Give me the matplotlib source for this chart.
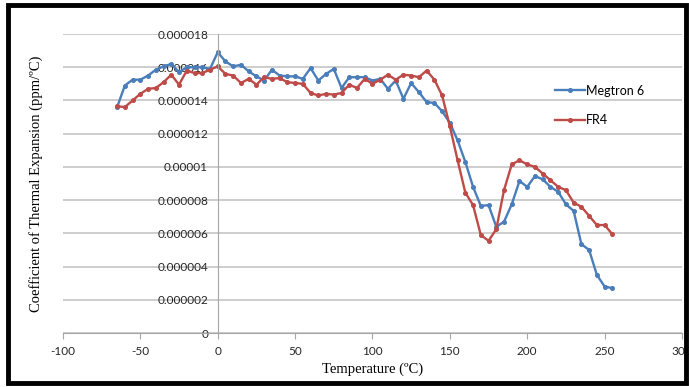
import matplotlib
matplotlib.use("Agg")
import matplotlib.pyplot as plt
from matplotlib.patches import Rectangle
import numpy as np

# temperature steps (deg C)
temps = list(range(-65, 260, 5))

# CTE values, in units of 1e-6 per deg C
megtron6 = [13.6, 14.9, 15.25, 15.25, 15.5, 15.85, 16.05, 16.2, 15.7, 16.0,
            16.0, 16.0, 15.9, 16.9, 16.35, 16.05, 16.15, 15.75, 15.45, 15.2,
            15.85, 15.5, 15.45, 15.45, 15.3, 15.95, 15.2, 15.6, 15.9, 14.75,
            15.4, 15.4, 15.4, 15.2, 15.3, 14.7, 15.2, 14.1, 15.05, 14.5,
            13.9, 13.85, 13.35, 12.65, 11.6, 10.3, 8.8, 7.65, 7.7, 6.4,
            6.7, 7.75, 9.15, 8.8, 9.45, 9.25, 8.8, 8.5, 7.75, 7.35,
            5.35, 5.0, 3.5, 2.8, 2.7]
fr4 = [13.65, 13.6, 14.0, 14.4, 14.7, 14.75, 15.1, 15.55, 14.95, 15.8,
       15.65, 15.65, 15.85, 16.05, 15.6, 15.5, 15.05, 15.3, 14.95, 15.4,
       15.3, 15.35, 15.1, 15.05, 15.0, 14.45, 14.3, 14.4, 14.35, 14.45,
       14.95, 14.75, 15.3, 15.0, 15.25, 15.55, 15.25, 15.55, 15.5, 15.4,
       15.8, 15.25, 14.3, 12.45, 10.4, 8.45, 7.7, 5.9, 5.55, 6.25,
       8.6, 10.15, 10.4, 10.15, 10.0, 9.6, 9.2, 8.8, 8.6, 7.85,
       7.6, 7.05, 6.5, 6.5, 5.95]

y_ticks = [0, 2e-6, 4e-6, 6e-6, 8e-6, 1e-5, 1.2e-5, 1.4e-5, 1.6e-5, 1.8e-5]
x_ticks = [-100, -50, 0, 50, 100, 150, 200, 250, 300]

megtron6 = np.array(megtron6) * 1e-6
fr4 = np.array(fr4) * 1e-6

fig = plt.figure(figsize=(6.89, 3.87), dpi=100)
ax = fig.add_axes([0.0914, 0.1395, 0.8984, 0.7726])

blue = "#4a7ebb"
red = "#be4b48"
ax.plot(temps, megtron6, color=blue, lw=1.7, marker="o", ms=2.6, label="Megtron 6")
ax.plot(temps, fr4, color=red, lw=1.7, marker="o", ms=2.6, label="FR4")

ax.set_xlim(-100, 300)
ax.set_ylim(0, 1.8e-5)
ax.set_xticks(x_ticks)
ax.set_yticks(y_ticks)


def fmt(v):
    if v == 0:
        return "0"
    return f"{v:.6f}".rstrip("0")


ax.set_yticklabels([fmt(v) for v in y_ticks])
ax.set_xticklabels([str(t) for t in x_ticks])

ax.grid(axis="y", color="#c0c0c0", lw=1.1)
ax.set_axisbelow(True)
for s in ["top", "right"]:
    ax.spines[s].set_visible(False)
ax.spines["left"].set_position(("data", 0))
ax.spines["left"].set_color("#a6a6a6")
ax.spines["bottom"].set_color("#a6a6a6")
ax.tick_params(axis="y", length=0, pad=7, labelsize=8.5, labelcolor="#262626")
ax.tick_params(axis="x", length=4, direction="out", color="#a6a6a6", pad=5,
               labelsize=8.5, labelcolor="#262626")
for lab in ax.get_xticklabels() + ax.get_yticklabels():
    lab.set_family("Lato")

ax.set_xlabel("Temperature (ºC)", family="Liberation Serif", fontsize=10.5, labelpad=4)
ax.set_ylabel("Coefficient of Thermal Expansion (ppm/ºC)", family="Liberation Serif",
              fontsize=10.5)
ax.yaxis.set_label_coords(-0.033, 0.5)

leg = ax.legend(loc="upper left", bbox_to_anchor=(0.795, 0.83), frameon=False,
                borderaxespad=0, borderpad=0, handlelength=2.4, handletextpad=0.1,
                labelspacing=1.4, prop={"family": "Lato", "size": 9})

fig.patches.append(Rectangle((0.0116, 0.0103), 0.984, 0.977, transform=fig.transFigure,
                             fill=False, edgecolor="black", lw=3.5))

fig.savefig("out.png", dpi=100)
